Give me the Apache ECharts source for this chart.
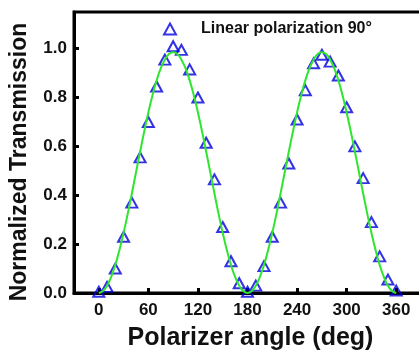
<!DOCTYPE html>
<html>
<head>
<meta charset="utf-8">
<script src="https://cdn.jsdelivr.net/npm/echarts@6/dist/echarts.min.js"></script>
<style>
	html, body { margin: 0; padding: 0; background: #fff; }
	#chart { width: 419px; height: 354px; }
</style>
</head>
<body>
<div id="chart"></div>
<script>
	// measured points, every 10 deg
	var angles = [0, 10, 20, 30, 40, 50, 60, 70, 80, 90, 100, 110, 120, 130, 140, 150, 160, 170, 180,
		190, 200, 210, 220, 230, 240, 250, 260, 270, 280, 290, 300, 310, 320, 330, 340, 350, 360];
	var transmission = [0.005, 0.025, 0.10, 0.23, 0.37, 0.555, 0.70, 0.845, 0.955, 1.01, 0.995, 0.915, 0.80,
		0.615, 0.465, 0.27, 0.13, 0.04, 0.005, 0.03, 0.11, 0.23, 0.37, 0.53, 0.71, 0.83, 0.94, 0.975,
		0.947, 0.89, 0.76, 0.60, 0.47, 0.29, 0.15, 0.055, 0.01];

	// green fit curve, every 5 deg
	var fitAngles = [0, 5, 10, 15, 20, 25, 30, 35, 40, 45, 50, 55, 60, 65, 70, 75, 80, 85, 90,
		95, 100, 105, 110, 115, 120, 125, 130, 135, 140, 145, 150, 155, 160, 165, 170, 175, 180,
		185, 190, 195, 200, 205, 210, 215, 220, 225, 230, 235, 240, 245, 250, 255, 260, 265, 270,
		275, 280, 285, 290, 295, 300, 305, 310, 315, 320, 325, 330, 335, 340, 345, 350, 355, 360];
	var fitValues = [0.000, 0.008, 0.030, 0.066, 0.115, 0.176, 0.246, 0.324, 0.407, 0.493, 0.578, 0.661, 0.739, 0.809, 0.870, 0.919, 0.955, 0.978, 0.985,
		0.978, 0.955, 0.919, 0.870, 0.809, 0.739, 0.661, 0.578, 0.493, 0.407, 0.324, 0.246, 0.176, 0.115, 0.066, 0.030, 0.008, 0.000,
		0.008, 0.030, 0.066, 0.115, 0.176, 0.246, 0.324, 0.407, 0.493, 0.578, 0.661, 0.739, 0.809, 0.870, 0.919, 0.955, 0.978, 0.985,
		0.978, 0.955, 0.919, 0.870, 0.809, 0.739, 0.661, 0.578, 0.493, 0.407, 0.324, 0.246, 0.176, 0.115, 0.066, 0.030, 0.008, 0.000];

	var xTicks = [0, 60, 120, 180, 240, 300, 360];

	var font = 'Liberation Sans, Arial, sans-serif';
	var myChart = echarts.init(document.getElementById('chart'));

	var pts = angles.map(function (a, i) { return [a, transmission[i]]; });
	var fit = fitAngles.map(function (a, i) { return [a, fitValues[i]]; });

	var option = {
		animation: false,
		grid: {
			left: 74,
			right: -2,
			top: 12,
			bottom: 61,
			show: true,
			borderColor: '#000',
			borderWidth: 3,
			outerBoundsMode: 'none'
		},
		legend: {
			data: ['Linear polarization 90°'],
			left: 158,
			top: 16,
			itemWidth: 12,
			itemHeight: 11,
			textStyle: {
				fontFamily: font,
				fontWeight: 'bold',
				fontSize: 16,
				color: '#111',
				padding: [0, 0, 0, 20]
			}
		},
		xAxis: {
			type: 'value',
			min: -30,
			max: 390,
			name: 'Polarizer angle (deg)',
			nameLocation: 'middle',
			nameGap: 33,
			nameTextStyle: {
				fontFamily: font,
				fontWeight: 'bold',
				fontSize: 25,
				color: '#111',
				padding: [0, 0, 0, 6]
			},
			axisLine: { lineStyle: { color: '#000', width: 3 } },
			axisTick: { inside: true, length: 5, lineStyle: { width: 3 }, customValues: xTicks },
			axisLabel: {
				customValues: xTicks,
				margin: 9,
				fontFamily: font,
				fontWeight: 'bold',
				fontSize: 17,
				color: '#111'
			},
			splitLine: { show: false }
		},
		yAxis: {
			type: 'value',
			min: 0,
			max: 1.15,
			interval: 0.2,
			axisLine: { show: true, onZero: false, lineStyle: { color: '#000', width: 3 } },
			axisTick: { show: true, inside: true, length: 5, lineStyle: { width: 3 } },
			axisLabel: {
				showMaxLabel: false,
				margin: 7,
				fontFamily: font,
				fontWeight: 'bold',
				fontSize: 17,
				color: '#111',
				formatter: function (v) { return v.toFixed(1); }
			},
			splitLine: { show: false }
		},
		graphic: [{
			type: 'text',
			x: 20,
			y: 162,
			rotation: Math.PI / 2,
			style: {
				text: 'Normalized Transmission',
				fontFamily: font,
				fontWeight: 'bold',
				fontSize: 23,
				fill: '#111',
				align: 'center',
				verticalAlign: 'middle'
			}
		}],
		series: [{
			name: 'Linear polarization 90°',
			type: 'scatter',
			symbol: 'triangle',
			symbolSize: [11, 10],
			itemStyle: {
				color: 'rgba(255,255,255,0)',
				borderColor: '#0000dd',
				borderWidth: 2
			},
			data: pts,
			z: 2
		}, {
			name: 'fit',
			type: 'line',
			smooth: true,
			showSymbol: false,
			lineStyle: { color: '#2ee62e', width: 2 },
			data: fit,
			z: 3
		}]
	};
	myChart.setOption(option);
</script>
</body>
</html>
